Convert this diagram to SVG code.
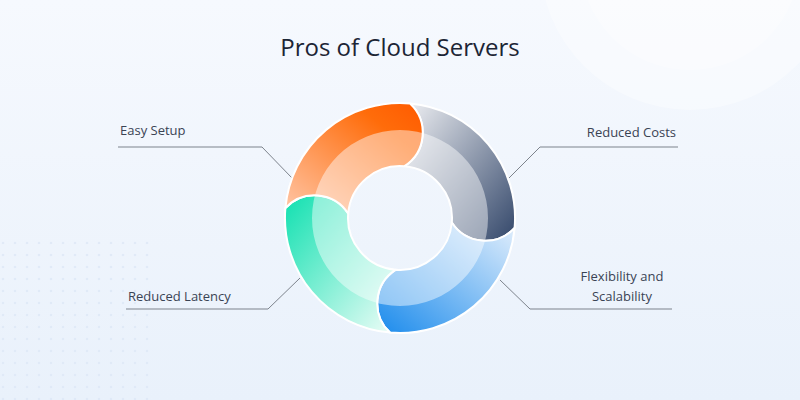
<svg xmlns="http://www.w3.org/2000/svg" width="800" height="400" viewBox="0 0 800 400">
<defs>
<linearGradient id="bg" x1="0" y1="0" x2="0" y2="1"><stop offset="0" stop-color="#f6f9fe"/><stop offset="1" stop-color="#e9f1fb"/></linearGradient>
<linearGradient id="gO" x1="0" y1="1" x2="1" y2="0"><stop offset="0" stop-color="#ffc7a8"/><stop offset="0.75" stop-color="#ff6c0a"/><stop offset="1" stop-color="#ff5a00"/></linearGradient>
<linearGradient id="gG" x1="0" y1="0" x2="1" y2="1"><stop offset="0" stop-color="#f0f1f4"/><stop offset="1" stop-color="#33476a"/></linearGradient>
<linearGradient id="gB" x1="1" y1="0" x2="0" y2="1"><stop offset="0" stop-color="#e3effc"/><stop offset="1" stop-color="#1b8bec"/></linearGradient>
<linearGradient id="gT" x1="0" y1="0" x2="1" y2="1"><stop offset="0" stop-color="#10e0b0"/><stop offset="1" stop-color="#effdf8"/></linearGradient>
<path id="sO" d="M285.4,208.0 A115,115 0 0 1 410.0,103.4 A40,40 0 0 1 404.5,166.2 A52,52 0 0 0 348.2,213.5 A40,40 0 0 0 285.4,208.0 Z"/>
<path id="sG" d="M410.0,103.4 A115,115 0 0 1 514.6,228.0 A40,40 0 0 1 451.8,222.5 A52,52 0 0 0 404.5,166.2 A40,40 0 0 0 410.0,103.4 Z"/>
<path id="sB" d="M514.6,228.0 A115,115 0 0 1 390.0,332.6 A40,40 0 0 1 395.5,269.8 A52,52 0 0 0 451.8,222.5 A40,40 0 0 0 514.6,228.0 Z"/>
<path id="sT" d="M390.0,332.6 A115,115 0 0 1 285.4,208.0 A40,40 0 0 1 348.2,213.5 A52,52 0 0 0 395.5,269.8 A40,40 0 0 0 390.0,332.6 Z"/>
<clipPath id="cO"><use href="#sO"/></clipPath>
<clipPath id="cG"><use href="#sG"/></clipPath>
<clipPath id="cB"><use href="#sB"/></clipPath>
<clipPath id="cT"><use href="#sT"/></clipPath>
<pattern id="dots" width="12" height="12" patternUnits="userSpaceOnUse"><circle cx="3" cy="3" r="1.3" fill="#dbe6f5"/></pattern>
</defs>
<style>
.lbl{font-family:"Open Sans","Liberation Sans",sans-serif;font-size:13px;fill:#3a4354}
.ld{fill:none;stroke:#7d838c;stroke-width:1}
.band{fill:#fff;fill-opacity:0.45}
.edge{fill:none;stroke:#fff;stroke-width:2}
</style>
<rect width="800" height="400" fill="url(#bg)"/>
<circle cx="690" cy="-40" r="150" fill="#ffffff" fill-opacity="0.35"/>
<circle cx="690" cy="-40" r="110" fill="#ffffff" fill-opacity="0.3"/>
<rect x="0" y="240" width="150" height="160" fill="url(#dots)" opacity="0.7"/>
<text x="400" y="56" text-anchor="middle" font-family="Open Sans, Liberation Sans, sans-serif" font-size="24" font-weight="500" fill="#1c2535">Pros of Cloud Servers</text>
<g id="connectors">
<polyline class="ld" points="118,147 262,147 292,178"/>
<polyline class="ld" points="678,147 540,147 507,180"/>
<polyline class="ld" points="126,309 268,309 300,278"/>
<polyline class="ld" points="672,309 530,309 500,280"/>
</g>
<g id="seg-gray"><g clip-path="url(#cG)"><use href="#sG" fill="url(#gG)"/><path class="band" fill-rule="evenodd" d="M488,218a88,88 0 1 0 -176,0a88,88 0 1 0 176,0ZM452,218a52,52 0 1 0 -104,0a52,52 0 1 0 104,0Z"/></g><use href="#sG" class="edge"/></g>
<g id="seg-blue"><g clip-path="url(#cB)"><use href="#sB" fill="url(#gB)"/><path class="band" fill-rule="evenodd" d="M488,218a88,88 0 1 0 -176,0a88,88 0 1 0 176,0ZM452,218a52,52 0 1 0 -104,0a52,52 0 1 0 104,0Z"/></g><use href="#sB" class="edge"/></g>
<g id="seg-teal"><g clip-path="url(#cT)"><use href="#sT" fill="url(#gT)"/><path class="band" fill-rule="evenodd" d="M488,218a88,88 0 1 0 -176,0a88,88 0 1 0 176,0ZM452,218a52,52 0 1 0 -104,0a52,52 0 1 0 104,0Z"/></g><use href="#sT" class="edge"/></g>
<g id="seg-orange"><g clip-path="url(#cO)"><use href="#sO" fill="url(#gO)"/><path class="band" fill-rule="evenodd" d="M488,218a88,88 0 1 0 -176,0a88,88 0 1 0 176,0ZM452,218a52,52 0 1 0 -104,0a52,52 0 1 0 104,0Z"/></g><use href="#sO" class="edge"/></g>
<g id="easy-setup"><text class="lbl" x="120" y="135">Easy Setup</text></g>
<g id="reduced-costs"><text class="lbl" x="676" y="137" text-anchor="end">Reduced Costs</text></g>
<g id="reduced-latency"><text class="lbl" x="128" y="301">Reduced Latency</text></g>
<g id="flexibility"><text class="lbl" x="622" y="281" text-anchor="middle">Flexibility and</text><text class="lbl" x="622" y="301" text-anchor="middle">Scalability</text></g>
</svg>
